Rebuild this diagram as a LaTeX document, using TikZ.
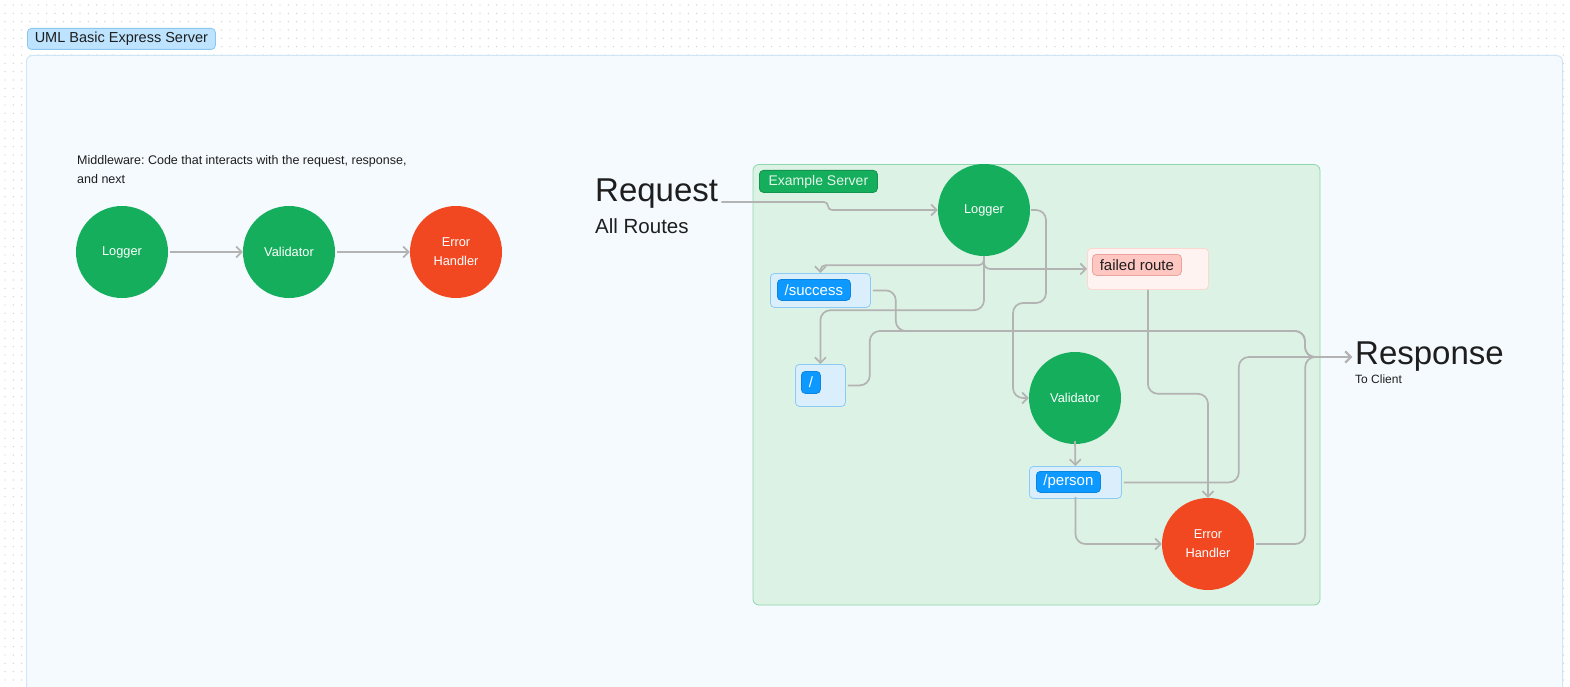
\documentclass[tikz,border=0pt]{standalone}
\usepackage{fontspec}
\setmainfont{Liberation Sans}
\usetikzlibrary{arrows.meta,calc}
\definecolor{gfill}{HTML}{14AE5C}
\definecolor{rfill}{HTML}{F24822}
\definecolor{connc}{HTML}{B3B3B3}
\definecolor{bigfill}{HTML}{F5FAFE}
\definecolor{bigdraw}{HTML}{CFE6F7}
\definecolor{esfill}{HTML}{DCF2E5}
\definecolor{esdraw}{HTML}{8DD8AC}
\definecolor{estext}{HTML}{E3F6EA}
\definecolor{ttfill}{HTML}{BDE3FF}
\definecolor{ttdraw}{HTML}{8AC6EE}
\definecolor{bfill}{HTML}{DBEEFC}
\definecolor{bdraw}{HTML}{8DCBF7}
\definecolor{tblue}{HTML}{0D99FF}
\definecolor{tbluedraw}{HTML}{0A86E0}
\definecolor{ffill}{HTML}{FFF3F1}
\definecolor{fdraw}{HTML}{FFD7D1}
\definecolor{ftag}{HTML}{FFC7C2}
\definecolor{ftagdraw}{HTML}{E8A39C}
\definecolor{dotc}{HTML}{CFCFCF}
\definecolor{txt}{HTML}{1E1E1E}
\newcommand\fsz[2]{\fontsize{#1}{#2}\selectfont}
\tikzset{
  conn/.style={draw=connc, line width=1.7pt, rounded corners=10pt,
    -{Straight Barb[length=5.5pt,width=11pt]}},
  gcirc/.style={circle, minimum size=92pt, inner sep=0pt, fill=gfill, text=white,
    font=\fsz{12.8}{19}, align=center},
  rcirc/.style={gcirc, fill=rfill},
  plaintext/.style={anchor=base west, inner sep=0pt, text=txt},
  outerbox/.style={anchor=north west, inner sep=0pt, rounded corners=4pt, line width=0.8pt},
  bluebox/.style={outerbox, fill=bfill, draw=bdraw},
  bluetag/.style={outerbox, fill=tblue, draw=tbluedraw, text=white, font=\fsz{15}{18}},
}
\begin{document}
\frenchspacing
\begin{tikzpicture}[x=1pt,y=-1pt]
\useasboundingbox (0,0) rectangle (1570,687);
\clip (0,0) rectangle (1570,687);
\fill[white] (0,0) rectangle (1570,687);
% dot grid
\foreach \i in {0,...,187}{\foreach \j in {0,...,6}{\fill[dotc] ({5+8.3333*\i},{5+8.3333*\j}) circle (0.7);}}
\foreach \i in {0,1,2,187}{\foreach \j in {7,...,82}{\fill[dotc] ({5+8.3333*\i},{5+8.3333*\j}) circle (0.7);}}
% big frame
\draw[draw=bigdraw, fill=bigfill, line width=1pt, rounded corners=6pt] (26.5,55.5) rectangle (1562.5,720);
% title tag
\node[outerbox, minimum width=188pt, minimum height=21pt, fill=ttfill, draw=ttdraw, text=txt,
  font=\fsz{14.5}{17}] (title) at (27,28) {UML Basic Express Server};

% left middleware explanation
\node[plaintext, font=\fsz{12.5}{18}] (mw1) at (77,165) {Middleware: Code that interacts with the request, response,};
\node[plaintext, font=\fsz{12.5}{18}] (mw2) at (77,183) {and next};
\node[gcirc] (l1) at (122,252) {Logger};
\node[gcirc] (l2) at (289,252) {Validator};
\node[rcirc] (l3) at (456,252) {Error\\Handler};
\draw[conn] ([xshift=2pt]l1.east) -- (l2.west);
\draw[conn] ([xshift=2pt]l2.east) -- (l3.west);

% example server frame
\draw[draw=esdraw, fill=esfill, line width=0.8pt, rounded corners=6pt] (753,164.5) rectangle (1320,605);
\node[outerbox, minimum width=118pt, minimum height=22pt, fill=gfill, draw=gfill!85!black,
  text=estext, font=\fsz{14}{17}] (estag) at (759,170) {Example Server};

% request / response labels
\node[plaintext, font=\fsz{33}{40}] (req) at (595,201) {Request};
\node[plaintext, font=\fsz{20.5}{24}] (allr) at (595,233) {All Routes};
\node[plaintext, font=\fsz{33}{40}] (resp) at (1355,364) {Response};
\node[plaintext, font=\fsz{12}{14}] (tocl) at (1355,383) {To Client};
\coordinate (respin) at (1352,357);

% circles
\node[gcirc] (rlog) at (984,210) {Logger};
\node[gcirc] (rval) at (1075,398) {Validator};
\node[rcirc] (rerr) at (1208,544) {Error\\Handler};

% route boxes
\node[outerbox, fill=ffill, draw=fdraw, minimum width=121pt, minimum height=41pt] (fbox) at (1087,248) {};
\node[outerbox, fill=ftag, draw=ftagdraw, text=txt, font=\fsz{15}{18},
  minimum width=89pt, minimum height=21pt] (ftg) at (1092,254) {failed route};
\node[bluebox, minimum width=100pt, minimum height=34pt] (sbox) at (770,273) {};
\node[bluetag, minimum width=73pt, minimum height=21pt] (stag) at (777,279) {/success};
\node[bluebox, minimum width=50pt, minimum height=42pt] (rbox) at (795,364) {};
\node[bluetag, minimum width=19pt, minimum height=22pt] (rtag) at (801,371) {/};
\node[bluebox, minimum width=92pt, minimum height=32pt] (pbox) at (1029,466) {};
\node[bluetag, minimum width=64pt, minimum height=21pt] (ptag) at (1036,471) {/person};

% connectors
\draw[conn, rounded corners=4pt] ([shift={(3,1)}]req.base east) -- (828,202) -- (828,210) -- (rlog.west);
\draw[conn] ([xshift=1pt]rlog.east) -- (1046,210) -- (1046,303) -- (1013,303) -- (1013,398) -- (rval.west);
\draw[conn, rounded corners=5pt] (rlog.south) -- ++(0,9) -| (sbox.north);
\draw[conn, rounded corners=6pt] (rlog.south) |- (fbox.west);
\draw[conn] (rlog.south) -- ++(0,54) -| (rbox.north);
\draw[conn] ([xshift=2pt]sbox.east) -- ++(23,0) |- (1305,331) |- (respin);
\draw[conn] ([xshift=2pt]rbox.east) -- ++(22,0) |- (1305,331) |- (respin);
\draw[conn] (fbox.south) -- ++(0,104) -| (rerr.north);
\draw[conn] ([yshift=3pt]rval.south) -- (pbox.north);
\draw[conn] ([xshift=2pt]pbox.east) -- ++(115,0) |- (respin);
\draw[conn] ([yshift=2pt]pbox.south) |- (rerr.west);
\draw[conn] ([xshift=2pt]rerr.east) -- ++(49,0) |- (respin);
\end{tikzpicture}
\end{document}
